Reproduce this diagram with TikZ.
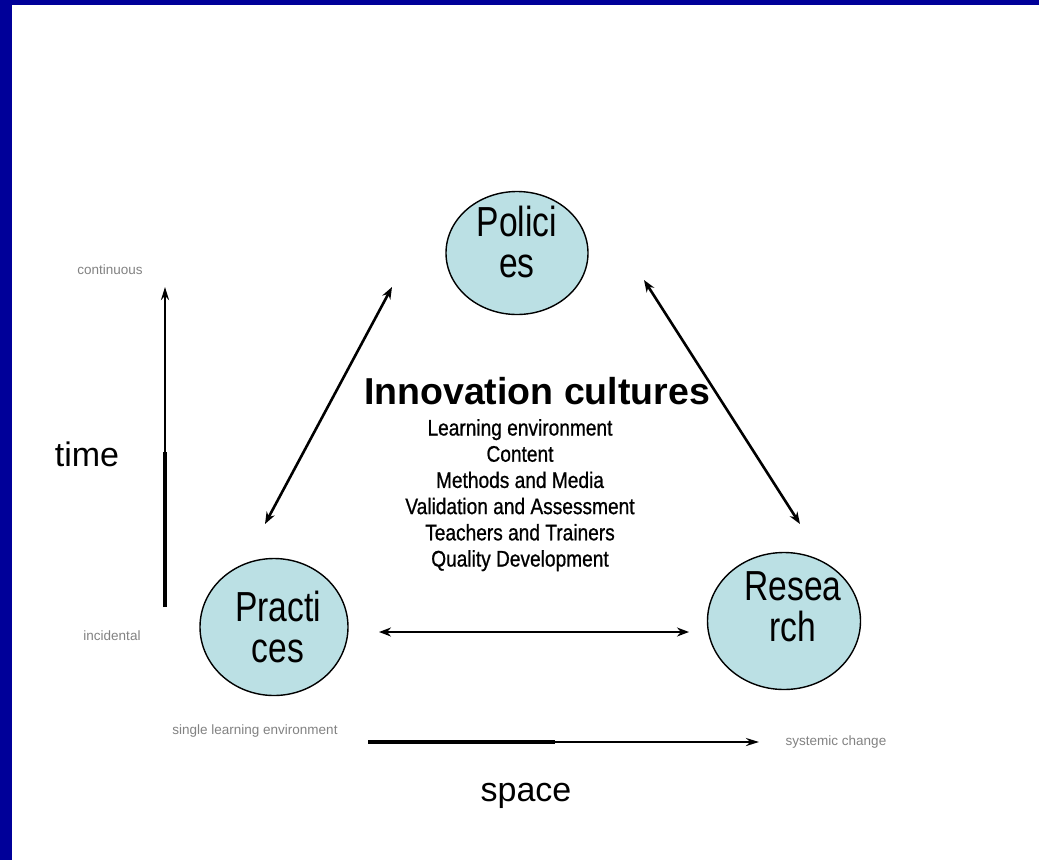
\documentclass[tikz,border=0pt]{standalone}
\usepackage{fontspec}
\setmainfont{Liberation Sans}
\newfontfamily\narrowsans[FakeStretch=0.8]{Liberation Sans}
\newfontfamily\listsans[FakeStretch=0.85,FakeBold=0.8]{Liberation Sans}
\usetikzlibrary{shapes.geometric,arrows.meta}
\definecolor{frameblue}{RGB}{0,0,153}
\definecolor{bubble}{RGB}{187,224,228}
\definecolor{axisgray}{RGB}{130,130,130}
\tikzset{
  bubble/.style={ellipse, draw=black, line width=1.4pt, fill=bubble, inner sep=0pt},
  bubbletext/.style={font=\narrowsans\fontsize{42}{41}\selectfont, align=center, inner sep=0pt, anchor=north},
  link/.style={line width=2.6pt, {Stealth[length=12pt,width=9pt]}-{Stealth[length=12pt,width=9pt]}},
  axis/.style={line width=2.2pt, -{Stealth[length=13pt,width=8pt]}},
  axisthick/.style={line width=3.6pt},
  axisword/.style={font=\fontsize{34}{34}\selectfont, inner sep=0pt},
  endword/.style={font=\fontsize{13.5}{14}\selectfont, text=axisgray, inner sep=0pt},
}
\begin{document}
\begin{tikzpicture}[x=1pt,y=-1pt]
\useasboundingbox (0,0) rectangle (1039,860);
\fill[white] (0,0) rectangle (1039,860);
% frame bands
\fill[frameblue] (0,0) rectangle (1039,5);
\fill[frameblue] (0,0) rectangle (12,860);

% the three bubbles
\node[bubble, minimum width=142pt, minimum height=123pt] (pol) at (517,253) {};
\node[bubble, minimum width=148pt, minimum height=137pt] (pra) at (274,627) {};
\node[bubble, minimum width=153pt, minimum height=137pt] (res) at (784,621) {};
\node[bubbletext] (poltext) at (517,206) {Polici\\es};
\node[bubbletext] (pratext) at (278,591) {Practi\\ces};
\node[bubbletext] (restext) at (793,571) {Resea\\rch};

% ends of the links between bubbles
\coordinate (prapolA) at (265,524);
\coordinate (prapolB) at (392,287);
\coordinate (polresA) at (644,280);
\coordinate (polresB) at (800,524);
\coordinate (praresA) at (379,632);
\coordinate (praresB) at (689,632);
\draw[link] (prapolA) -- (prapolB);
\draw[link] (polresA) -- (polresB);
\draw[link] (praresA) -- (praresB);

% centre text
\node[font=\bfseries\fontsize{37.5}{37}\selectfont, inner sep=0pt, anchor=base] (title) at (537,404) {Innovation cultures};
\node[font=\listsans\fontsize{22.5}{26.2}\selectfont, align=center, inner sep=0pt, anchor=north] (topics) at (520,419)
  {Learning environment\\Content\\Methods and Media\\Validation and Assessment\\Teachers and Trainers\\Quality Development};

% time axis
\coordinate (tbot) at (165,607);
\coordinate (tmid) at (165,452);
\coordinate (ttop) at (165,287);
\draw[axisthick] (tbot) -- (tmid);
\draw[axis] (tmid) -- (ttop);
\node[axisword] (time) at (87,454) {time};
\node[endword] (cont) at (110,270) {continuous};
\node[endword] (inc) at (112,636) {incidental};

% space axis
\coordinate (sleft) at (368,742);
\coordinate (smid) at (555,742);
\coordinate (sright) at (759,742);
\draw[axisthick] (sleft) -- (smid);
\draw[axis] (smid) -- (sright);
\node[axisword] (space) at (526,796) {space};
\node[endword] (single) at (255,731) {single learning environment};
\node[endword] (sys) at (836,742) {systemic change};
\end{tikzpicture}
\end{document}
